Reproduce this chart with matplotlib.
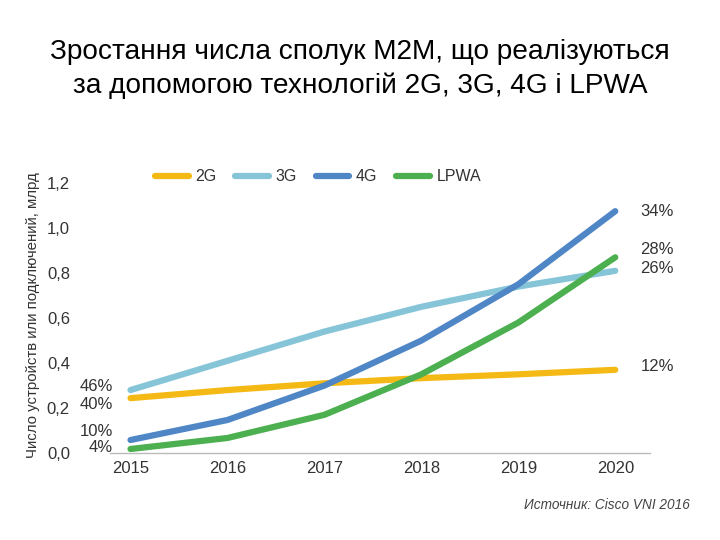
import matplotlib.pyplot as plt
from matplotlib.ticker import FuncFormatter

plt.rcParams['font.family'] = ['Liberation Sans', 'DejaVu Sans']

years = [2015, 2016, 2017, 2018, 2019, 2020]
g2 = [0.244, 0.28, 0.31, 0.333, 0.35, 0.37]
g3 = [0.28, 0.41, 0.54, 0.65, 0.74, 0.81]
g4 = [0.058, 0.147, 0.30, 0.50, 0.75, 1.075]
lpwa = [0.018, 0.067, 0.17, 0.35, 0.58, 0.87]

names = ['2G', '3G', '4G', 'LPWA']
colors = ['#F5B915', '#86C5D8', '#4F86C6', '#4CAF50']
left_pct = ['40%', '46%', '10%', '4%']
right_pct = ['12%', '26%', '34%', '28%']

fig = plt.figure(figsize=(7.2, 5.4), dpi=100)
fig.text(0.5, 0.872, 'Зростання числа сполук M2M, що реалізуються\nза допомогою технологій 2G, 3G, 4G і LPWA',
         ha='center', va='center', fontsize=20.2, linespacing=1.35, color='black')

ax = fig.add_axes([0.153, 0.161, 0.75, 0.5])
series = [g2, g3, g4, lpwa]
for vals, nm, c in zip(series, names, colors):
    ax.plot(years, vals, color=c, lw=4.5, solid_capstyle='round', label=nm)

ax.set_xlim(2014.79, 2020.36)
ax.set_ylim(0, 1.2)
ax.set_xticks(years)
ax.set_yticks([0, 0.2, 0.4, 0.6, 0.8, 1.0, 1.2])
ax.yaxis.set_major_formatter(FuncFormatter(lambda v, p: f'{v:.1f}'.replace('.', ',')))
ax.tick_params(length=0, labelsize=12, labelcolor='#333333', pad=6)
ax.tick_params(axis='y', pad=29)
for s in ['top', 'right', 'left']:
    ax.spines[s].set_visible(False)
ax.spines['bottom'].set_color('#bbbbbb')
ax.spines['bottom'].set_linewidth(1)
ax.patch.set_alpha(0)

# percent labels
left_y = [0.214, 0.298, 0.094, 0.026]
for lab, yv in zip(left_pct, left_y):
    ax.text(2014.82, yv, lab, ha='right', va='center', fontsize=12, color='#333333')
right_y = [0.383, 0.82, 1.075, 0.903]
for lab, yv in zip(right_pct, right_y):
    ax.text(2020.26, yv, lab, ha='left', va='center', fontsize=12, color='#333333')

ax.set_ylabel('Число устройств или подключений, млрд', fontsize=10.8, color='#333333')
ax.yaxis.set_label_coords(-0.13, 0.51)

ax.legend(ncol=4, frameon=False, loc='lower left', bbox_to_anchor=(0.083, 0.995),
          handlelength=2.1, handletextpad=0.4, columnspacing=1.2, fontsize=11.5,
          labelcolor='#333333', borderaxespad=0, borderpad=0)

fig.text(0.958, 0.065, 'Источник: Cisco VNI 2016', ha='right', va='center',
         fontsize=9.8, style='italic', color='#444444')

fig.savefig('out.png', dpi=100)
